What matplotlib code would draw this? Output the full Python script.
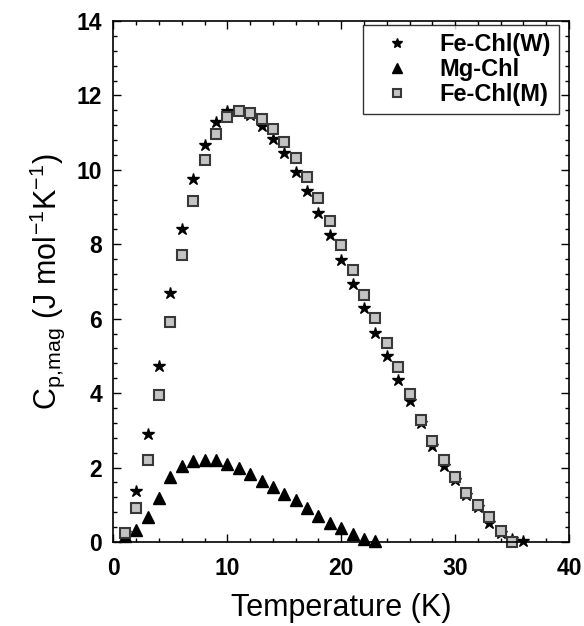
import matplotlib
matplotlib.use('Agg')
import matplotlib.pyplot as plt
from matplotlib.ticker import MultipleLocator

plt.rcParams['font.family'] = ['Liberation Sans', 'DejaVu Sans']
plt.rcParams['mathtext.default'] = 'regular'

# magnetic heat capacity, J mol-1 K-1
temp_w = list(range(1, 37))
cp_w = [0.25, 1.38, 2.89, 4.73, 6.68, 8.42, 9.75, 10.66, 11.28, 11.57,
        11.57, 11.46, 11.19, 10.84, 10.44, 9.95, 9.42, 8.85, 8.25, 7.58,
        6.93, 6.29, 5.61, 4.99, 4.34, 3.78, 3.21, 2.57, 2.05, 1.67,
        1.27, 0.94, 0.51, 0.24, 0.08, 0.02]

temp_mg = list(range(1, 24))
cp_mg = [0.15, 0.32, 0.68, 1.19, 1.75, 2.03, 2.17, 2.21, 2.19, 2.10,
         1.99, 1.83, 1.65, 1.48, 1.29, 1.13, 0.92, 0.70, 0.52, 0.38,
         0.22, 0.08, 0.04]

temp_m = list(range(1, 36))
cp_m = [0.24, 0.92, 2.19, 3.94, 5.92, 7.70, 9.17, 10.26, 10.95, 11.41,
        11.58, 11.54, 11.37, 11.10, 10.76, 10.32, 9.81, 9.23, 8.63, 7.99,
        7.32, 6.64, 6.02, 5.34, 4.69, 3.97, 3.29, 2.72, 2.21, 1.74,
        1.31, 1.00, 0.67, 0.30, 0.01]

fig = plt.figure(figsize=(5.84, 6.26), dpi=100)
ax = fig.add_axes([0.1943, 0.1342, 0.780, 0.8323])

ax.plot(temp_w, cp_w, linestyle='none', marker='*', markersize=9,
        color='black', label='Fe-Chl(W)', clip_on=False)
ax.plot(temp_mg, cp_mg, linestyle='none', marker='^', markersize=8.5,
        color='black', label='Mg-Chl', clip_on=False)
ax.plot(temp_m, cp_m, linestyle='none', marker='s', markersize=7.5,
        markerfacecolor='#c4c4c4', markeredgecolor='#383838',
        markeredgewidth=1.5, label='Fe-Chl(M)', clip_on=False)

ax.set_xlim(0, 40)
ax.set_ylim(0, 14)
ax.xaxis.set_major_locator(MultipleLocator(10))
ax.xaxis.set_minor_locator(MultipleLocator(2))
ax.yaxis.set_major_locator(MultipleLocator(2))
ax.yaxis.set_minor_locator(MultipleLocator(0.4))
ax.tick_params(which='both', direction='in', top=True, right=True,
               width=1, labelsize=16.5)
ax.tick_params(axis='y', pad=8)
ax.tick_params(axis='x', pad=11)
ax.tick_params(which='major', length=6)
ax.tick_params(which='minor', length=3)
for lab in ax.get_xticklabels() + ax.get_yticklabels():
    lab.set_fontweight('bold')
for sp in ax.spines.values():
    sp.set_linewidth(1.2)

ax.set_xlabel('Temperature (K)', fontsize=22, labelpad=9)
ax.set_ylabel(r'$C_{p,\!mag}$ (J mol$^{-1}$K$^{-1}$)', fontsize=22,
              labelpad=7)

leg = ax.legend(loc='upper right', bbox_to_anchor=(0.978, 0.992),
                borderaxespad=0, frameon=True, fancybox=False,
                edgecolor='black', handletextpad=0.7, borderpad=0.35,
                labelspacing=0.08, handlelength=2.2, markerscale=0.85,
                prop={'weight': 'bold', 'size': 17})
leg.get_frame().set_linewidth(1.0)

fig.savefig('out.png', dpi=100)
